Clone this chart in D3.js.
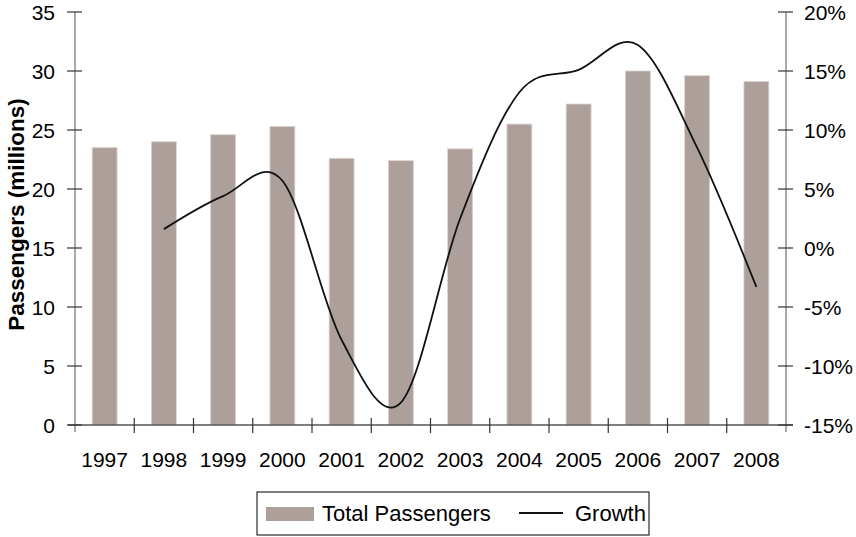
<!DOCTYPE html>
<html>
<head>
<meta charset="UTF-8">
<script src="https://d3js.org/d3.v7.min.js"></script>
<style>
  body { margin: 0; background: #fff; }
  svg { display: block; font-family: "Liberation Sans", Arial, sans-serif; }
</style>
</head>
<body>
<svg width="856" height="537"></svg>
<script>
const years = ["1997", "1998", "1999", "2000", "2001", "2002", "2003", "2004", "2005", "2006", "2007", "2008"];
const passengers = [23.5, 24.0, 24.6, 25.3, 22.6, 22.4, 23.4, 25.5, 27.2, 30.0, 29.6, 29.1];
const growthYears = ["1998", "1999", "2000", "2001", "2002", "2003", "2004", "2005", "2006", "2007", "2008"];
const growth = [1.6, 4.4, 5.7, -7.8, -13.1, 2.5, 13.2, 15.1, 17.2, 8.5, -3.3];
const leftTicks = [0, 5, 10, 15, 20, 25, 30, 35];
const rightTicks = [-15, -10, -5, 0, 5, 10, 15, 20];

const svg = d3.select("svg");
const plotL = 75, plotR = 786, plotT = 12, plotB = 425;
const fontSize = 21;

const x = d3.scaleBand().domain(years).range([plotL, plotR]).padding(0);
const y = d3.scaleLinear().domain([0, 35]).range([plotB, plotT]);
const y2 = d3.scaleLinear().domain([-15, 20]).range([plotB, plotT]);
const barW = x.bandwidth() * 0.42;

// bars
svg.selectAll("rect.bar")
  .data(years)
  .enter()
  .append("rect")
  .attr("class", "bar")
  .attr("x", (d, i) => x(d) + (x.bandwidth() - barW) / 2)
  .attr("y", (d, i) => y(passengers[i]))
  .attr("width", barW)
  .attr("height", (d, i) => y(0) - y(passengers[i]))
  .attr("fill", "#ada09a")
  .attr("stroke", "#d9d1cd")
  .attr("stroke-width", 0.8);

// growth line (smoothed like the spreadsheet)
const line = d3.line()
  .x((d, i) => x(growthYears[i]) + x.bandwidth() / 2)
  .y(d => y2(d))
  .curve(d3.curveCardinal.tension(0));

svg.append("path")
  .datum(growth)
  .attr("d", line)
  .attr("fill", "none")
  .attr("stroke", "#111")
  .attr("stroke-width", 1.8);

// axis lines
const axisColor = "#7a7a7a";
svg.append("line").attr("x1", plotL).attr("x2", plotL).attr("y1", plotT).attr("y2", plotB + 7)
  .attr("stroke", axisColor).attr("stroke-width", 1.3);
svg.append("line").attr("x1", plotR).attr("x2", plotR).attr("y1", plotT).attr("y2", plotB + 7)
  .attr("stroke", axisColor).attr("stroke-width", 1.3);
svg.append("line").attr("x1", plotL - 7).attr("x2", plotR + 7).attr("y1", plotB).attr("y2", plotB)
  .attr("stroke", "#555").attr("stroke-width", 1.3);

// left ticks
svg.selectAll("line.lt").data(leftTicks).enter().append("line")
  .attr("x1", plotL - 8).attr("x2", plotL + 7)
  .attr("y1", d => y(d)).attr("y2", d => y(d))
  .attr("stroke", "#333").attr("stroke-width", 1.2);
svg.selectAll("text.lt").data(leftTicks).enter().append("text")
  .attr("x", 55).attr("y", d => y(d))
  .attr("text-anchor", "end").attr("dominant-baseline", "central")
  .attr("font-size", fontSize).attr("fill", "#000")
  .text(d => d);

// right ticks
svg.selectAll("line.rt").data(rightTicks).enter().append("line")
  .attr("x1", plotR - 8).attr("x2", plotR + 7)
  .attr("y1", d => y2(d)).attr("y2", d => y2(d))
  .attr("stroke", "#333").attr("stroke-width", 1.2);
svg.selectAll("text.rt").data(rightTicks).enter().append("text")
  .attr("x", 804).attr("y", d => y2(d))
  .attr("text-anchor", "start").attr("dominant-baseline", "central")
  .attr("font-size", fontSize).attr("fill", "#000")
  .text(d => d + "%");

// bottom ticks at category boundaries
const bounds = years.map(d => x(d)).concat([plotR]);
svg.selectAll("line.bt").data(bounds.slice(1, -1)).enter().append("line")
  .attr("x1", d => d).attr("x2", d => d)
  .attr("y1", plotB - 7).attr("y2", plotB + 8)
  .attr("stroke", "#333").attr("stroke-width", 1.2);
svg.selectAll("text.bt").data(years).enter().append("text")
  .attr("x", d => x(d) + x.bandwidth() / 2).attr("y", 467)
  .attr("text-anchor", "middle")
  .attr("font-size", fontSize).attr("fill", "#000")
  .text(d => d);

// y axis title
svg.append("text")
  .attr("transform", "translate(24," + ((plotT + plotB) / 2 - 4) + ") rotate(-90)")
  .attr("text-anchor", "middle")
  .attr("font-size", 22.5).attr("font-weight", "bold")
  .text("Passengers (millions)");

// legend
const lg = svg.append("g");
lg.append("rect").attr("x", 257).attr("y", 492).attr("width", 392).attr("height", 43)
  .attr("fill", "#fff").attr("stroke", "#000").attr("stroke-width", 1);
lg.append("rect").attr("x", 266).attr("y", 507).attr("width", 48).attr("height", 14)
  .attr("fill", "#ada09a");
lg.append("text").attr("x", 322).attr("y", 521).attr("font-size", 22)
  .text("Total Passengers");
lg.append("line").attr("x1", 519).attr("x2", 563).attr("y1", 513).attr("y2", 513)
  .attr("stroke", "#111").attr("stroke-width", 1.8);
lg.append("text").attr("x", 575).attr("y", 521).attr("font-size", 22)
  .text("Growth");
</script>
</body>
</html>
